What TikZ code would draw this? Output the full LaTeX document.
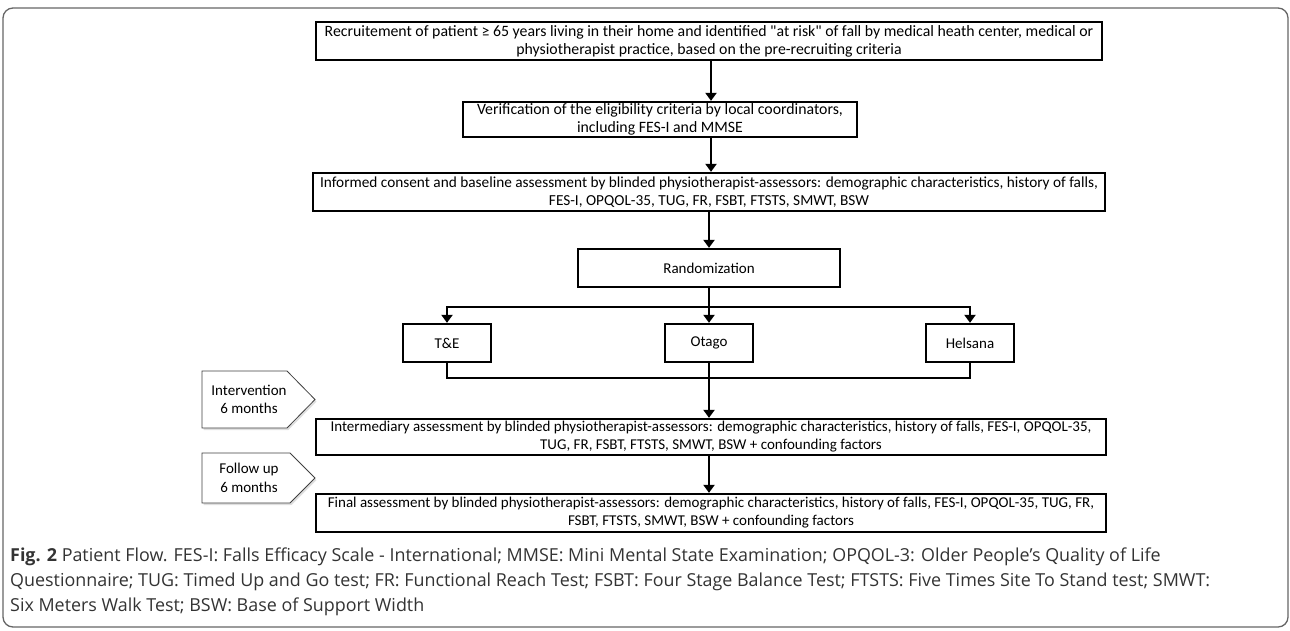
\documentclass[tikz,border=0pt]{standalone}
\usepackage{fontspec}
\setmainfont{Carlito}[Ligatures=TeXOff]
\newfontfamily\capfont{Open Sans}
\usetikzlibrary{positioning, arrows.meta, shadows}

\begin{document}
\begin{tikzpicture}[x=1pt, y=-1pt,
  box/.style={draw, line width=2.3pt, inner sep=0pt, align=center,
    font=\fontsize{15}{18}\selectfont},
  phase/.style={draw=black!75, line width=0.8pt, fill=white,
    drop shadow={opacity=0.25, shadow xshift=1.5pt, shadow yshift=-2pt}},
  phasetext/.style={align=center, font=\fontsize{15}{18.5}\selectfont},
  arr/.style={line width=2.3pt, -{Triangle[length=8pt, width=11pt]}},
  link/.style={line width=2.3pt}]
\useasboundingbox (0,0) rectangle (1290,630);
\draw[black!60, line width=1.3pt, rounded corners=10pt] (3,8) rectangle (1288,627);

\node[box, minimum width=786, minimum height=38, font=\fontsize{15.8}{18}\selectfont] (recruit) at (709,41)
  {Recruitement of patient ≥ 65 years living in their home and identified "at risk" of fall by medical heath center, medical or\\
   physiotherapist practice, based on the pre-recruiting criteria};
\node[box, minimum width=394, minimum height=35, font=\fontsize{15.8}{18}\selectfont] (verif) at (660,119.5)
  {Verification of the eligibility criteria by local coordinators,\\including FES-I and MMSE};
\node[box, minimum width=792, minimum height=38, font=\fontsize{15.3}{18}\selectfont] (consent) at (709,192)
  {Informed consent and baseline assessment by blinded physiotherapist-assessors: demographic characteristics, history of falls,\\
   FES-I, OPQOL-35, TUG, FR, FSBT, FTSTS, SMWT, BSW};
\node[box, minimum width=262, minimum height=38] (random) at (709,268) {Randomization};

\node[box, minimum width=88, minimum height=38] (te) at (447,343) {T\&E};
\node[box, minimum width=88, minimum height=38] (otago) at (709,343) {Otago};
\node[box, minimum width=88, minimum height=38] (helsana) at (970,343) {Helsana};

\node[box, minimum width=790, minimum height=36] (inter) at (711,437)
  {Intermediary assessment by blinded physiotherapist-assessors: demographic characteristics, history of falls, FES-I, OPQOL-35,\\
   TUG, FR, FSBT, FTSTS, SMWT, BSW + confounding factors};
\node[box, minimum width=790, minimum height=38] (final) at (711,513)
  {Final assessment by blinded physiotherapist-assessors: demographic characteristics, history of falls, FES-I, OPQOL-35, TUG, FR,\\
   FSBT, FTSTS, SMWT, BSW + confounding factors};

% phase arrows on the left
\draw[phase] (202,371) -- (287,371) -- (315,399.5) -- (287,428) -- (202,428) -- cycle;
\node[phasetext] (interv) at (249,399.5) {Intervention\\6 months};
\draw[phase] (202,453) -- (290,453) -- (315,478) -- (290,503) -- (202,503) -- cycle;
\node[phasetext] (follow) at (249,478) {Follow up\\6 months};

\coordinate (split) at (709,307);
\coordinate (join) at (709,378);

\draw[arr] (recruit.south -| 711,0) -- (verif.north -| 711,0);
\draw[arr] (verif.south -| 711,0) -- (consent.north -| 711,0);
\draw[arr] (consent.south -| random.north) -- (random.north);
\draw[arr] (random.south) -- (otago.north);
\draw[arr] (split) -| (te.north);
\draw[arr] (split) -| (helsana.north);
\draw[link] (te.south) |- (join) -| (helsana.south);
\draw[arr] (otago.south) -- (otago.south |- inter.north);
\draw[arr] (inter.south -| otago.south) -- (otago.south |- final.north);

\node[anchor=north west, align=left, text=black!80, inner sep=0pt,
  font=\capfont\fontsize{17.9}{25}\selectfont] (caption) at (10,548)
  {\textbf{Fig. 2} Patient Flow. FES-I: Falls Efficacy Scale - International; MMSE: Mini Mental State Examination; OPQOL-3: Older People’s Quality of Life\\
   Questionnaire; TUG: Timed Up and Go test; FR: Functional Reach Test; FSBT: Four Stage Balance Test; FTSTS: Five Times Site To Stand test; SMWT:\\
   Six Meters Walk Test; BSW: Base of Support Width};
\end{tikzpicture}
\end{document}
